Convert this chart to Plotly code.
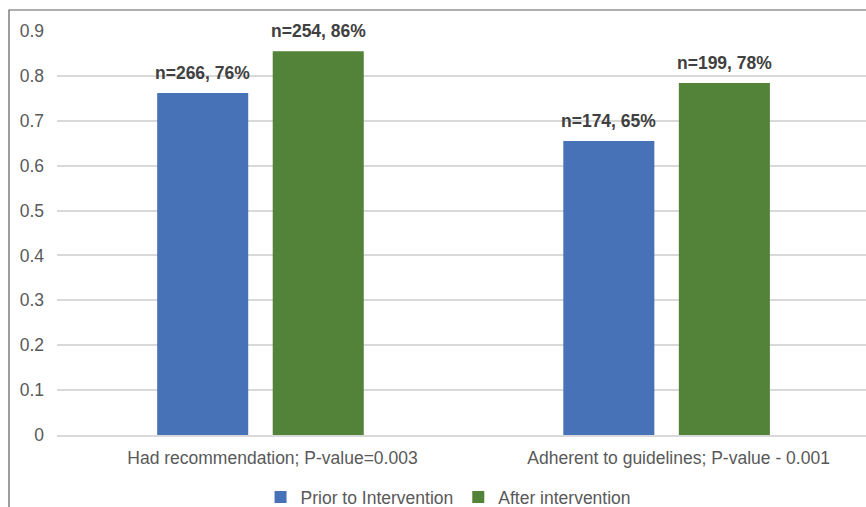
import plotly.graph_objects as go

categories = ["Had recommendation; P-value=0.003", "Adherent to guidelines; P-value - 0.001"]
series_names = ["Prior to Intervention", "After intervention"]
prior_values = [0.762, 0.655]
after_values = [0.855, 0.784]
prior_labels = ["n=266, 76%", "n=174, 65%"]
after_labels = ["n=254, 86%", "n=199, 78%"]
y_ticks = [0, 0.1, 0.2, 0.3, 0.4, 0.5, 0.6, 0.7, 0.8, 0.9]
y_tick_text = ["0", "0.1", "0.2", "0.3", "0.4", "0.5", "0.6", "0.7", "0.8", "0.9"]

W, H = 866, 507
ML, MR, MT, MB = 57, 0, 31, 72
BARGAP = 0.431
BARGROUPGAP = 0.212
XRANGE = [-0.501, 1.491]
BLUE = "#4872B8"
GREEN = "#538239"
FONT = "Liberation Sans, Arial, sans-serif"

fig = go.Figure()
fig.add_trace(go.Bar(x=categories, y=prior_values, name=series_names[0],
                     marker=dict(color=BLUE, line=dict(width=0))))
fig.add_trace(go.Bar(x=categories, y=after_values, name=series_names[1],
                     marker=dict(color=GREEN, line=dict(width=0))))

plot_w = W - ML - MR
plot_h = H - MT - MB
px_per_cat = plot_w / (XRANGE[1] - XRANGE[0])
slot_offset = px_per_cat * (1 - BARGAP) / 4

annotations = []
for i, cat in enumerate(categories):
    for vals, labs, sign in ((prior_values, prior_labels, -1), (after_values, after_labels, 1)):
        annotations.append(dict(
            x=cat, y=vals[i], xref="x", yref="y", text=labs[i], showarrow=False,
            xshift=sign * slot_offset, yshift=20, yanchor="middle",
            font=dict(family=FONT, size=17.5, color="#404040", weight="bold")))

# chart border (top/left edges visible in crop)
bx = (9 - ML) / plot_w
by_top = (H - MB - 10) / plot_h
by_bot = (H - MB - 515) / plot_h
shapes = [dict(type="path", xref="paper", yref="paper",
               path=f"M {bx},{by_bot} L {bx},{by_top} L 1.02,{by_top}",
               line=dict(color="#5f5f5f", width=1.2))]

fig.update_layout(
    width=W, height=H,
    margin=dict(l=ML, r=MR, t=MT, b=MB, pad=0, autoexpand=False),
    paper_bgcolor="white", plot_bgcolor="white",
    bargap=BARGAP, bargroupgap=BARGROUPGAP,
    font=dict(family=FONT, size=17.5, color="#595959"),
    xaxis=dict(range=XRANGE, showgrid=False, showline=True, linecolor="#d9d9d9",
               linewidth=1.5, ticks="", tickfont=dict(size=17.5, color="#595959"),
               ticklabelshift=12, ticklabelstandoff=6, fixedrange=True),
    yaxis=dict(range=[0, 0.9], tickvals=y_ticks, ticktext=y_tick_text,
               showgrid=True, gridcolor="#d9d9d9", gridwidth=1.5,
               zeroline=False, showline=False, ticks="",
               tickfont=dict(size=17.5, color="#595959"),
               ticklabelstandoff=12),
    legend=dict(orientation="h", x=0.484, xanchor="center",
                yref="container", y=1 - 497 / H, yanchor="middle",
                font=dict(size=17.5, color="#595959"),
                itemwidth=30, tracegroupgap=0, bgcolor="rgba(0,0,0,0)"),
    annotations=annotations,
    shapes=shapes,
    showlegend=True,
)

fig.write_html("out.html")
